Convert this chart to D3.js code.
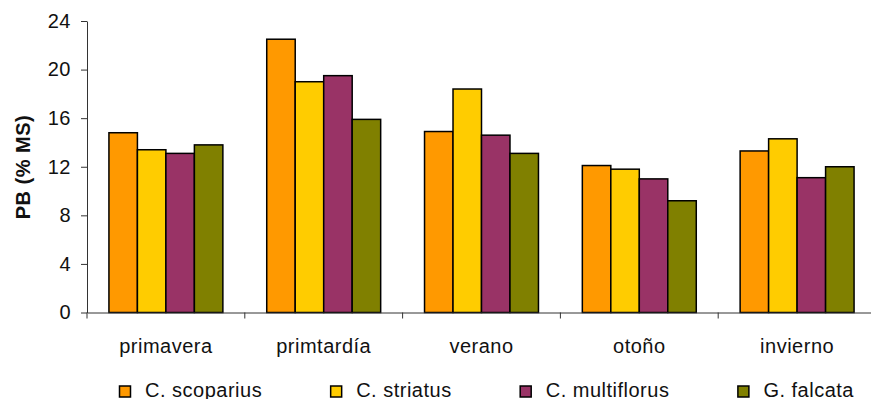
<!DOCTYPE html>
<html>
<head>
<meta charset="utf-8">
<script src="https://cdn.jsdelivr.net/npm/d3@7"></script>
<style>
  body { margin: 0; background: #fff; }
  svg { display: block; font-family: "Liberation Sans", Arial, sans-serif; }
</style>
</head>
<body>
<svg width="871" height="399"></svg>
<script>
var seasons = ["primavera", "primtardía", "verano", "otoño", "invierno"];
var species = ["C. scoparius", "C. striatus", "C. multiflorus", "G. falcata"];
var colors = ["#FF9900", "#FFCC00", "#993366", "#808000"];

var scoparius = [14.8, 22.5, 14.9, 12.1, 13.3];
var striatus = [13.4, 19.0, 18.4, 11.8, 14.3];
var multiflorus = [13.1, 19.5, 14.6, 11.0, 11.1];
var falcata = [13.8, 15.9, 13.1, 9.2, 12.0];
var yTicks = [0, 4, 8, 12, 16, 20, 24];

var series = [scoparius, striatus, multiflorus, falcata];

var svg = d3.select("svg");

var x0 = d3.scaleBand().domain(seasons).range([87, 876]).padding(0);
var x1 = d3.scaleBand().domain(species).range([0, x0.bandwidth()]).paddingInner(0).paddingOuter(0.77);
var y = d3.scaleLinear().domain([0, 24]).range([312.5, 21]);
var color = d3.scaleOrdinal().domain(species).range(colors);

// y axis
var yAxis = svg.append("g")
    .attr("transform", "translate(87,0)")
    .call(d3.axisLeft(y).tickValues(yTicks).tickSize(6).tickSizeOuter(0).tickPadding(10));
yAxis.select(".domain").attr("stroke", "#333");
yAxis.selectAll(".tick line").attr("stroke", "#333");
yAxis.selectAll("text")
    .attr("font-size", 20)
    .attr("letter-spacing", 0.5)
    .attr("font-family", "Liberation Sans, Arial, sans-serif")
    .attr("fill", "#111");

// bars
var groups = svg.append("g").selectAll("g")
    .data(seasons)
    .enter().append("g")
    .attr("transform", function (d) { return "translate(" + x0(d) + ",0)"; });

groups.selectAll("rect")
    .data(function (d, i) {
        return species.map(function (s, j) { return { key: s, value: series[j][i] }; });
    })
    .enter().append("rect")
    .attr("x", function (d) { return x1(d.key); })
    .attr("y", function (d) { return y(d.value); })
    .attr("width", x1.bandwidth())
    .attr("height", function (d) { return y(0) - y(d.value); })
    .attr("fill", function (d) { return color(d.key); })
    .attr("stroke", "#000")
    .attr("stroke-width", 1.5);

// x axis
var xAxis = svg.append("g")
    .attr("transform", "translate(0," + y(0) + ")")
    .call(d3.axisBottom(x0).tickSize(0).tickPadding(26));
xAxis.select(".domain").attr("stroke", "#333");
xAxis.selectAll("text")
    .attr("font-size", 20)
    .attr("letter-spacing", 0.5)
    .attr("font-family", "Liberation Sans, Arial, sans-serif")
    .attr("fill", "#111");

// category boundary ticks
var bounds = seasons.map(function (s) { return x0(s); }).concat([x0.range()[1]]);
xAxis.selectAll(".bound")
    .data(bounds)
    .enter().append("line")
    .attr("class", "bound")
    .attr("x1", function (d) { return d; })
    .attr("x2", function (d) { return d; })
    .attr("y1", 0)
    .attr("y2", 6)
    .attr("stroke", "#333");

// y title
svg.append("text")
    .attr("transform", "translate(30,167) rotate(-90)")
    .attr("text-anchor", "middle")
    .attr("font-size", 20)
    .attr("font-weight", "bold")
    .attr("letter-spacing", 0.5)
    .attr("fill", "#111")
    .text("PB (% MS)");

// legend
var legend = svg.append("g");
var lx = 119;
species.forEach(function (s) {
    var item = legend.append("g").attr("transform", "translate(" + lx + ",0)");
    item.append("rect")
        .attr("x", 0.5)
        .attr("y", 386)
        .attr("width", 11)
        .attr("height", 11)
        .attr("fill", color(s))
        .attr("stroke", "#000")
        .attr("stroke-width", 1.5);
    var t = item.append("text")
        .attr("x", 26)
        .attr("y", 397)
        .attr("font-size", 20)
        .attr("letter-spacing", 0.5)
        .attr("fill", "#111")
        .text(s);
    lx += 26 + t.node().getComputedTextLength() + 68;
});
</script>
</body>
</html>
